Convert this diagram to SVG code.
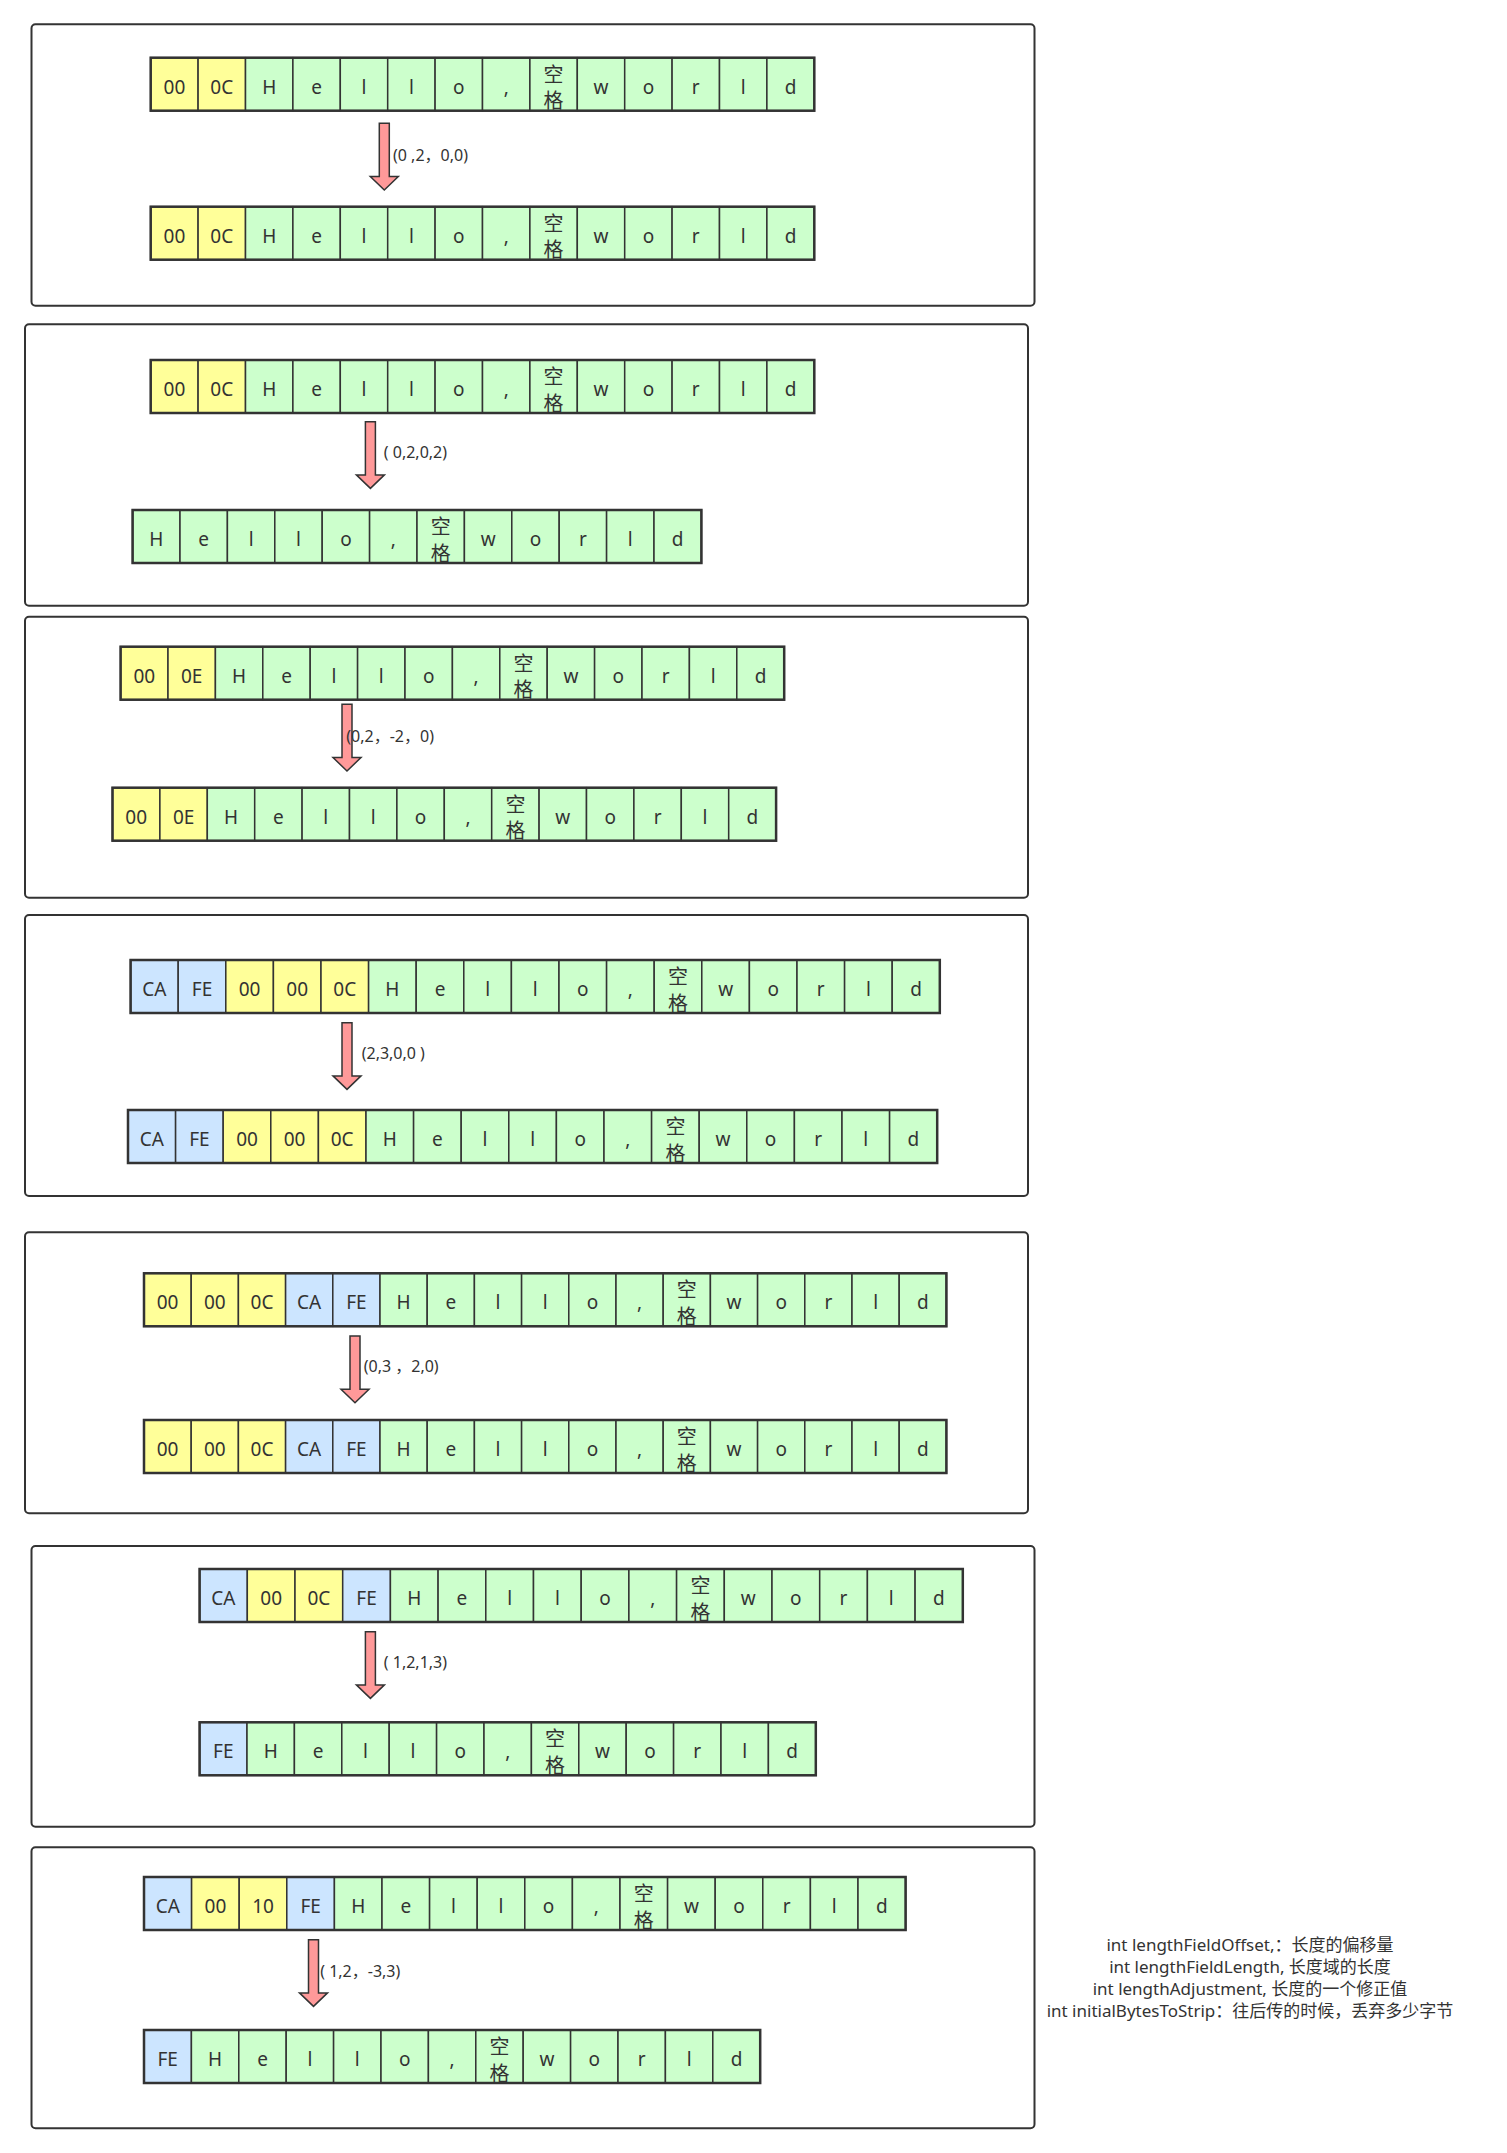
<svg xmlns="http://www.w3.org/2000/svg" width="1507" height="2153" viewBox="0 0 1507 2153">
<style>
text{font-family:"Noto Sans","Noto Sans CJK SC",sans-serif;fill:#333}
.t{font-size:19px;text-anchor:middle}
.k{font-size:20px;text-anchor:middle;font-family:"Noto Sans CJK SC",sans-serif}
.lb{font-size:16px;white-space:pre}
.nt{font-size:17px;text-anchor:middle}
.p{fill:#fff;stroke:#333;stroke-width:2}
.y,.g,.b{stroke:#333;stroke-width:1.5}
.y{fill:#ffff99}.g{fill:#ccffcc}.b{fill:#cce5ff}
.o{fill:none;stroke:#333;stroke-width:2.5}
.ar{fill:#ff9999;stroke:#333;stroke-width:1.5}
</style>
<defs>
<path id="arrow" class="ar" d="M-5,0 H5 V53.2 H14 L0,66.7 L-14,53.2 H-5 Z"/>
</defs>
<rect width="1507" height="2153" fill="#fff"/>
<g id="panels">
<rect id="panel1" class="p" x="31.5" y="24.3" width="1003" height="281.4" rx="4"/>
<rect id="panel2" class="p" x="25" y="324.3" width="1003" height="281.4" rx="4"/>
<rect id="panel3" class="p" x="25" y="616.7" width="1003" height="281" rx="4"/>
<rect id="panel4" class="p" x="25" y="915" width="1003" height="281" rx="4"/>
<rect id="panel5" class="p" x="25" y="1232.3" width="1003" height="281" rx="4"/>
<rect id="panel6" class="p" x="31.5" y="1546" width="1003" height="280.7" rx="4"/>
<rect id="panel7" class="p" x="31.5" y="1847.3" width="1003" height="281" rx="4"/>
</g>

<g id="p1-in" transform="translate(150.7,57.7)">
<rect class="y" x="0" width="47.4" height="53"/><rect class="y" x="47.4" width="47.4" height="53"/>
<rect class="g" x="94.8" width="47.4" height="53"/><rect class="g" x="142.2" width="47.4" height="53"/><rect class="g" x="189.6" width="47.4" height="53"/><rect class="g" x="237" width="47.4" height="53"/><rect class="g" x="284.4" width="47.4" height="53"/><rect class="g" x="331.8" width="47.4" height="53"/><rect class="g" x="379.2" width="47.4" height="53"/><rect class="g" x="426.6" width="47.4" height="53"/><rect class="g" x="474" width="47.4" height="53"/><rect class="g" x="521.4" width="47.4" height="53"/><rect class="g" x="568.8" width="47.4" height="53"/><rect class="g" x="616.2" width="47.4" height="53"/>
<rect class="o" width="663.6" height="53"/>
<text class="t" x="23.7" y="36">00</text><text class="t" x="71.1" y="36">0C</text>
<text class="t" x="118.5" y="36">H</text><text class="t" x="165.9" y="36">e</text><text class="t" x="213.3" y="36">l</text><text class="t" x="260.7" y="36">l</text><text class="t" x="308.1" y="36">o</text><text class="t" x="355.5" y="36">,</text><text class="k" x="402.9" y="24">空</text><text class="k" x="402.9" y="50.5">格</text><text class="t" x="450.3" y="36">w</text><text class="t" x="497.7" y="36">o</text><text class="t" x="545.1" y="36">r</text><text class="t" x="592.5" y="36">l</text><text class="t" x="639.9" y="36">d</text>
</g>
<g id="p1-out" transform="translate(150.7,206.7)">
<rect class="y" x="0" width="47.4" height="53"/><rect class="y" x="47.4" width="47.4" height="53"/>
<rect class="g" x="94.8" width="47.4" height="53"/><rect class="g" x="142.2" width="47.4" height="53"/><rect class="g" x="189.6" width="47.4" height="53"/><rect class="g" x="237" width="47.4" height="53"/><rect class="g" x="284.4" width="47.4" height="53"/><rect class="g" x="331.8" width="47.4" height="53"/><rect class="g" x="379.2" width="47.4" height="53"/><rect class="g" x="426.6" width="47.4" height="53"/><rect class="g" x="474" width="47.4" height="53"/><rect class="g" x="521.4" width="47.4" height="53"/><rect class="g" x="568.8" width="47.4" height="53"/><rect class="g" x="616.2" width="47.4" height="53"/>
<rect class="o" width="663.6" height="53"/>
<text class="t" x="23.7" y="36">00</text><text class="t" x="71.1" y="36">0C</text>
<text class="t" x="118.5" y="36">H</text><text class="t" x="165.9" y="36">e</text><text class="t" x="213.3" y="36">l</text><text class="t" x="260.7" y="36">l</text><text class="t" x="308.1" y="36">o</text><text class="t" x="355.5" y="36">,</text><text class="k" x="402.9" y="24">空</text><text class="k" x="402.9" y="50.5">格</text><text class="t" x="450.3" y="36">w</text><text class="t" x="497.7" y="36">o</text><text class="t" x="545.1" y="36">r</text><text class="t" x="592.5" y="36">l</text><text class="t" x="639.9" y="36">d</text>
</g>

<g id="p2-in" transform="translate(150.7,360)">
<rect class="y" x="0" width="47.4" height="53"/><rect class="y" x="47.4" width="47.4" height="53"/>
<rect class="g" x="94.8" width="47.4" height="53"/><rect class="g" x="142.2" width="47.4" height="53"/><rect class="g" x="189.6" width="47.4" height="53"/><rect class="g" x="237" width="47.4" height="53"/><rect class="g" x="284.4" width="47.4" height="53"/><rect class="g" x="331.8" width="47.4" height="53"/><rect class="g" x="379.2" width="47.4" height="53"/><rect class="g" x="426.6" width="47.4" height="53"/><rect class="g" x="474" width="47.4" height="53"/><rect class="g" x="521.4" width="47.4" height="53"/><rect class="g" x="568.8" width="47.4" height="53"/><rect class="g" x="616.2" width="47.4" height="53"/>
<rect class="o" width="663.6" height="53"/>
<text class="t" x="23.7" y="36">00</text><text class="t" x="71.1" y="36">0C</text>
<text class="t" x="118.5" y="36">H</text><text class="t" x="165.9" y="36">e</text><text class="t" x="213.3" y="36">l</text><text class="t" x="260.7" y="36">l</text><text class="t" x="308.1" y="36">o</text><text class="t" x="355.5" y="36">,</text><text class="k" x="402.9" y="24">空</text><text class="k" x="402.9" y="50.5">格</text><text class="t" x="450.3" y="36">w</text><text class="t" x="497.7" y="36">o</text><text class="t" x="545.1" y="36">r</text><text class="t" x="592.5" y="36">l</text><text class="t" x="639.9" y="36">d</text>
</g>
<g id="p2-out" transform="translate(132.6,510)">
<rect class="g" x="0" width="47.4" height="53"/><rect class="g" x="47.4" width="47.4" height="53"/><rect class="g" x="94.8" width="47.4" height="53"/><rect class="g" x="142.2" width="47.4" height="53"/><rect class="g" x="189.6" width="47.4" height="53"/><rect class="g" x="237" width="47.4" height="53"/><rect class="g" x="284.4" width="47.4" height="53"/><rect class="g" x="331.8" width="47.4" height="53"/><rect class="g" x="379.2" width="47.4" height="53"/><rect class="g" x="426.6" width="47.4" height="53"/><rect class="g" x="474" width="47.4" height="53"/><rect class="g" x="521.4" width="47.4" height="53"/>
<rect class="o" width="568.8" height="53"/>
<text class="t" x="23.7" y="36">H</text><text class="t" x="71.1" y="36">e</text><text class="t" x="118.5" y="36">l</text><text class="t" x="165.9" y="36">l</text><text class="t" x="213.3" y="36">o</text><text class="t" x="260.7" y="36">,</text><text class="k" x="308.1" y="24">空</text><text class="k" x="308.1" y="50.5">格</text><text class="t" x="355.5" y="36">w</text><text class="t" x="402.9" y="36">o</text><text class="t" x="450.3" y="36">r</text><text class="t" x="497.7" y="36">l</text><text class="t" x="545.1" y="36">d</text>
</g>

<g id="p3-in" transform="translate(120.6,646.7)">
<rect class="y" x="0" width="47.4" height="53"/><rect class="y" x="47.4" width="47.4" height="53"/>
<rect class="g" x="94.8" width="47.4" height="53"/><rect class="g" x="142.2" width="47.4" height="53"/><rect class="g" x="189.6" width="47.4" height="53"/><rect class="g" x="237" width="47.4" height="53"/><rect class="g" x="284.4" width="47.4" height="53"/><rect class="g" x="331.8" width="47.4" height="53"/><rect class="g" x="379.2" width="47.4" height="53"/><rect class="g" x="426.6" width="47.4" height="53"/><rect class="g" x="474" width="47.4" height="53"/><rect class="g" x="521.4" width="47.4" height="53"/><rect class="g" x="568.8" width="47.4" height="53"/><rect class="g" x="616.2" width="47.4" height="53"/>
<rect class="o" width="663.6" height="53"/>
<text class="t" x="23.7" y="36">00</text><text class="t" x="71.1" y="36">0E</text>
<text class="t" x="118.5" y="36">H</text><text class="t" x="165.9" y="36">e</text><text class="t" x="213.3" y="36">l</text><text class="t" x="260.7" y="36">l</text><text class="t" x="308.1" y="36">o</text><text class="t" x="355.5" y="36">,</text><text class="k" x="402.9" y="24">空</text><text class="k" x="402.9" y="50.5">格</text><text class="t" x="450.3" y="36">w</text><text class="t" x="497.7" y="36">o</text><text class="t" x="545.1" y="36">r</text><text class="t" x="592.5" y="36">l</text><text class="t" x="639.9" y="36">d</text>
</g>
<g id="p3-out" transform="translate(112.5,787.7)">
<rect class="y" x="0" width="47.4" height="53"/><rect class="y" x="47.4" width="47.4" height="53"/>
<rect class="g" x="94.8" width="47.4" height="53"/><rect class="g" x="142.2" width="47.4" height="53"/><rect class="g" x="189.6" width="47.4" height="53"/><rect class="g" x="237" width="47.4" height="53"/><rect class="g" x="284.4" width="47.4" height="53"/><rect class="g" x="331.8" width="47.4" height="53"/><rect class="g" x="379.2" width="47.4" height="53"/><rect class="g" x="426.6" width="47.4" height="53"/><rect class="g" x="474" width="47.4" height="53"/><rect class="g" x="521.4" width="47.4" height="53"/><rect class="g" x="568.8" width="47.4" height="53"/><rect class="g" x="616.2" width="47.4" height="53"/>
<rect class="o" width="663.6" height="53"/>
<text class="t" x="23.7" y="36">00</text><text class="t" x="71.1" y="36">0E</text>
<text class="t" x="118.5" y="36">H</text><text class="t" x="165.9" y="36">e</text><text class="t" x="213.3" y="36">l</text><text class="t" x="260.7" y="36">l</text><text class="t" x="308.1" y="36">o</text><text class="t" x="355.5" y="36">,</text><text class="k" x="402.9" y="24">空</text><text class="k" x="402.9" y="50.5">格</text><text class="t" x="450.3" y="36">w</text><text class="t" x="497.7" y="36">o</text><text class="t" x="545.1" y="36">r</text><text class="t" x="592.5" y="36">l</text><text class="t" x="639.9" y="36">d</text>
</g>

<g id="p4-in" transform="translate(130.6,960)">
<rect class="b" x="0" width="47.6" height="53"/><rect class="b" x="47.6" width="47.6" height="53"/>
<rect class="y" x="95.2" width="47.6" height="53"/><rect class="y" x="142.8" width="47.6" height="53"/><rect class="y" x="190.4" width="47.6" height="53"/>
<rect class="g" x="238" width="47.6" height="53"/><rect class="g" x="285.6" width="47.6" height="53"/><rect class="g" x="333.2" width="47.6" height="53"/><rect class="g" x="380.8" width="47.6" height="53"/><rect class="g" x="428.4" width="47.6" height="53"/><rect class="g" x="476" width="47.6" height="53"/><rect class="g" x="523.6" width="47.6" height="53"/><rect class="g" x="571.2" width="47.6" height="53"/><rect class="g" x="618.8" width="47.6" height="53"/><rect class="g" x="666.4" width="47.6" height="53"/><rect class="g" x="714" width="47.6" height="53"/><rect class="g" x="761.6" width="47.6" height="53"/>
<rect class="o" width="809.2" height="53"/>
<text class="t" x="23.8" y="36">CA</text><text class="t" x="71.4" y="36">FE</text><text class="t" x="119" y="36">00</text><text class="t" x="166.6" y="36">00</text><text class="t" x="214.2" y="36">0C</text>
<text class="t" x="261.8" y="36">H</text><text class="t" x="309.4" y="36">e</text><text class="t" x="357" y="36">l</text><text class="t" x="404.6" y="36">l</text><text class="t" x="452.2" y="36">o</text><text class="t" x="499.8" y="36">,</text><text class="k" x="547.4" y="24">空</text><text class="k" x="547.4" y="50.5">格</text><text class="t" x="595" y="36">w</text><text class="t" x="642.6" y="36">o</text><text class="t" x="690.2" y="36">r</text><text class="t" x="737.8" y="36">l</text><text class="t" x="785.4" y="36">d</text>
</g>
<g id="p4-out" transform="translate(128,1110)">
<rect class="b" x="0" width="47.6" height="53"/><rect class="b" x="47.6" width="47.6" height="53"/>
<rect class="y" x="95.2" width="47.6" height="53"/><rect class="y" x="142.8" width="47.6" height="53"/><rect class="y" x="190.4" width="47.6" height="53"/>
<rect class="g" x="238" width="47.6" height="53"/><rect class="g" x="285.6" width="47.6" height="53"/><rect class="g" x="333.2" width="47.6" height="53"/><rect class="g" x="380.8" width="47.6" height="53"/><rect class="g" x="428.4" width="47.6" height="53"/><rect class="g" x="476" width="47.6" height="53"/><rect class="g" x="523.6" width="47.6" height="53"/><rect class="g" x="571.2" width="47.6" height="53"/><rect class="g" x="618.8" width="47.6" height="53"/><rect class="g" x="666.4" width="47.6" height="53"/><rect class="g" x="714" width="47.6" height="53"/><rect class="g" x="761.6" width="47.6" height="53"/>
<rect class="o" width="809.2" height="53"/>
<text class="t" x="23.8" y="36">CA</text><text class="t" x="71.4" y="36">FE</text><text class="t" x="119" y="36">00</text><text class="t" x="166.6" y="36">00</text><text class="t" x="214.2" y="36">0C</text>
<text class="t" x="261.8" y="36">H</text><text class="t" x="309.4" y="36">e</text><text class="t" x="357" y="36">l</text><text class="t" x="404.6" y="36">l</text><text class="t" x="452.2" y="36">o</text><text class="t" x="499.8" y="36">,</text><text class="k" x="547.4" y="24">空</text><text class="k" x="547.4" y="50.5">格</text><text class="t" x="595" y="36">w</text><text class="t" x="642.6" y="36">o</text><text class="t" x="690.2" y="36">r</text><text class="t" x="737.8" y="36">l</text><text class="t" x="785.4" y="36">d</text>
</g>

<g id="p5-in" transform="translate(144,1273.3)">
<rect class="y" x="0" width="47.2" height="53"/><rect class="y" x="47.2" width="47.2" height="53"/><rect class="y" x="94.4" width="47.2" height="53"/>
<rect class="b" x="141.6" width="47.2" height="53"/><rect class="b" x="188.8" width="47.2" height="53"/>
<rect class="g" x="236" width="47.2" height="53"/><rect class="g" x="283.2" width="47.2" height="53"/><rect class="g" x="330.4" width="47.2" height="53"/><rect class="g" x="377.6" width="47.2" height="53"/><rect class="g" x="424.8" width="47.2" height="53"/><rect class="g" x="472" width="47.2" height="53"/><rect class="g" x="519.2" width="47.2" height="53"/><rect class="g" x="566.4" width="47.2" height="53"/><rect class="g" x="613.6" width="47.2" height="53"/><rect class="g" x="660.8" width="47.2" height="53"/><rect class="g" x="708" width="47.2" height="53"/><rect class="g" x="755.2" width="47.2" height="53"/>
<rect class="o" width="802.4" height="53"/>
<text class="t" x="23.6" y="36">00</text><text class="t" x="70.8" y="36">00</text><text class="t" x="118" y="36">0C</text><text class="t" x="165.2" y="36">CA</text><text class="t" x="212.4" y="36">FE</text>
<text class="t" x="259.6" y="36">H</text><text class="t" x="306.8" y="36">e</text><text class="t" x="354" y="36">l</text><text class="t" x="401.2" y="36">l</text><text class="t" x="448.4" y="36">o</text><text class="t" x="495.6" y="36">,</text><text class="k" x="542.8" y="24">空</text><text class="k" x="542.8" y="50.5">格</text><text class="t" x="590" y="36">w</text><text class="t" x="637.2" y="36">o</text><text class="t" x="684.4" y="36">r</text><text class="t" x="731.6" y="36">l</text><text class="t" x="778.8" y="36">d</text>
</g>
<g id="p5-out" transform="translate(144,1420)">
<rect class="y" x="0" width="47.2" height="53"/><rect class="y" x="47.2" width="47.2" height="53"/><rect class="y" x="94.4" width="47.2" height="53"/>
<rect class="b" x="141.6" width="47.2" height="53"/><rect class="b" x="188.8" width="47.2" height="53"/>
<rect class="g" x="236" width="47.2" height="53"/><rect class="g" x="283.2" width="47.2" height="53"/><rect class="g" x="330.4" width="47.2" height="53"/><rect class="g" x="377.6" width="47.2" height="53"/><rect class="g" x="424.8" width="47.2" height="53"/><rect class="g" x="472" width="47.2" height="53"/><rect class="g" x="519.2" width="47.2" height="53"/><rect class="g" x="566.4" width="47.2" height="53"/><rect class="g" x="613.6" width="47.2" height="53"/><rect class="g" x="660.8" width="47.2" height="53"/><rect class="g" x="708" width="47.2" height="53"/><rect class="g" x="755.2" width="47.2" height="53"/>
<rect class="o" width="802.4" height="53"/>
<text class="t" x="23.6" y="36">00</text><text class="t" x="70.8" y="36">00</text><text class="t" x="118" y="36">0C</text><text class="t" x="165.2" y="36">CA</text><text class="t" x="212.4" y="36">FE</text>
<text class="t" x="259.6" y="36">H</text><text class="t" x="306.8" y="36">e</text><text class="t" x="354" y="36">l</text><text class="t" x="401.2" y="36">l</text><text class="t" x="448.4" y="36">o</text><text class="t" x="495.6" y="36">,</text><text class="k" x="542.8" y="24">空</text><text class="k" x="542.8" y="50.5">格</text><text class="t" x="590" y="36">w</text><text class="t" x="637.2" y="36">o</text><text class="t" x="684.4" y="36">r</text><text class="t" x="731.6" y="36">l</text><text class="t" x="778.8" y="36">d</text>
</g>

<g id="p6-in" transform="translate(199.6,1569)">
<rect class="b" x="0" width="47.7" height="53"/>
<rect class="y" x="47.7" width="47.7" height="53"/><rect class="y" x="95.4" width="47.7" height="53"/>
<rect class="b" x="143.1" width="47.7" height="53"/>
<rect class="g" x="190.8" width="47.7" height="53"/><rect class="g" x="238.5" width="47.7" height="53"/><rect class="g" x="286.2" width="47.7" height="53"/><rect class="g" x="333.9" width="47.7" height="53"/><rect class="g" x="381.6" width="47.7" height="53"/><rect class="g" x="429.3" width="47.7" height="53"/><rect class="g" x="477" width="47.7" height="53"/><rect class="g" x="524.7" width="47.7" height="53"/><rect class="g" x="572.4" width="47.7" height="53"/><rect class="g" x="620.1" width="47.7" height="53"/><rect class="g" x="667.8" width="47.7" height="53"/><rect class="g" x="715.5" width="47.7" height="53"/>
<rect class="o" width="763.2" height="53"/>
<text class="t" x="23.85" y="36">CA</text><text class="t" x="71.55" y="36">00</text><text class="t" x="119.25" y="36">0C</text><text class="t" x="166.95" y="36">FE</text>
<text class="t" x="214.65" y="36">H</text><text class="t" x="262.35" y="36">e</text><text class="t" x="310.05" y="36">l</text><text class="t" x="357.75" y="36">l</text><text class="t" x="405.45" y="36">o</text><text class="t" x="453.15" y="36">,</text><text class="k" x="500.85" y="24">空</text><text class="k" x="500.85" y="50.5">格</text><text class="t" x="548.55" y="36">w</text><text class="t" x="596.25" y="36">o</text><text class="t" x="643.95" y="36">r</text><text class="t" x="691.65" y="36">l</text><text class="t" x="739.35" y="36">d</text>
</g>
<g id="p6-out" transform="translate(199.6,1722.3)">
<rect class="b" x="0" width="47.4" height="53"/>
<rect class="g" x="47.4" width="47.4" height="53"/><rect class="g" x="94.8" width="47.4" height="53"/><rect class="g" x="142.2" width="47.4" height="53"/><rect class="g" x="189.6" width="47.4" height="53"/><rect class="g" x="237" width="47.4" height="53"/><rect class="g" x="284.4" width="47.4" height="53"/><rect class="g" x="331.8" width="47.4" height="53"/><rect class="g" x="379.2" width="47.4" height="53"/><rect class="g" x="426.6" width="47.4" height="53"/><rect class="g" x="474" width="47.4" height="53"/><rect class="g" x="521.4" width="47.4" height="53"/><rect class="g" x="568.8" width="47.4" height="53"/>
<rect class="o" width="616.2" height="53"/>
<text class="t" x="23.7" y="36">FE</text>
<text class="t" x="71.1" y="36">H</text><text class="t" x="118.5" y="36">e</text><text class="t" x="165.9" y="36">l</text><text class="t" x="213.3" y="36">l</text><text class="t" x="260.7" y="36">o</text><text class="t" x="308.1" y="36">,</text><text class="k" x="355.5" y="24">空</text><text class="k" x="355.5" y="50.5">格</text><text class="t" x="402.9" y="36">w</text><text class="t" x="450.3" y="36">o</text><text class="t" x="497.7" y="36">r</text><text class="t" x="545.1" y="36">l</text><text class="t" x="592.5" y="36">d</text>
</g>

<g id="p7-in" transform="translate(144,1877)">
<rect class="b" x="0" width="47.6" height="53"/>
<rect class="y" x="47.6" width="47.6" height="53"/><rect class="y" x="95.2" width="47.6" height="53"/>
<rect class="b" x="142.8" width="47.6" height="53"/>
<rect class="g" x="190.4" width="47.6" height="53"/><rect class="g" x="238" width="47.6" height="53"/><rect class="g" x="285.6" width="47.6" height="53"/><rect class="g" x="333.2" width="47.6" height="53"/><rect class="g" x="380.8" width="47.6" height="53"/><rect class="g" x="428.4" width="47.6" height="53"/><rect class="g" x="476" width="47.6" height="53"/><rect class="g" x="523.6" width="47.6" height="53"/><rect class="g" x="571.2" width="47.6" height="53"/><rect class="g" x="618.8" width="47.6" height="53"/><rect class="g" x="666.4" width="47.6" height="53"/><rect class="g" x="714" width="47.6" height="53"/>
<rect class="o" width="761.6" height="53"/>
<text class="t" x="23.8" y="36">CA</text><text class="t" x="71.4" y="36">00</text><text class="t" x="119" y="36">10</text><text class="t" x="166.6" y="36">FE</text>
<text class="t" x="214.2" y="36">H</text><text class="t" x="261.8" y="36">e</text><text class="t" x="309.4" y="36">l</text><text class="t" x="357" y="36">l</text><text class="t" x="404.6" y="36">o</text><text class="t" x="452.2" y="36">,</text><text class="k" x="499.8" y="24">空</text><text class="k" x="499.8" y="50.5">格</text><text class="t" x="547.4" y="36">w</text><text class="t" x="595" y="36">o</text><text class="t" x="642.6" y="36">r</text><text class="t" x="690.2" y="36">l</text><text class="t" x="737.8" y="36">d</text>
</g>
<g id="p7-out" transform="translate(144,2030)">
<rect class="b" x="0" width="47.4" height="53"/>
<rect class="g" x="47.4" width="47.4" height="53"/><rect class="g" x="94.8" width="47.4" height="53"/><rect class="g" x="142.2" width="47.4" height="53"/><rect class="g" x="189.6" width="47.4" height="53"/><rect class="g" x="237" width="47.4" height="53"/><rect class="g" x="284.4" width="47.4" height="53"/><rect class="g" x="331.8" width="47.4" height="53"/><rect class="g" x="379.2" width="47.4" height="53"/><rect class="g" x="426.6" width="47.4" height="53"/><rect class="g" x="474" width="47.4" height="53"/><rect class="g" x="521.4" width="47.4" height="53"/><rect class="g" x="568.8" width="47.4" height="53"/>
<rect class="o" width="616.2" height="53"/>
<text class="t" x="23.7" y="36">FE</text>
<text class="t" x="71.1" y="36">H</text><text class="t" x="118.5" y="36">e</text><text class="t" x="165.9" y="36">l</text><text class="t" x="213.3" y="36">l</text><text class="t" x="260.7" y="36">o</text><text class="t" x="308.1" y="36">,</text><text class="k" x="355.5" y="24">空</text><text class="k" x="355.5" y="50.5">格</text><text class="t" x="402.9" y="36">w</text><text class="t" x="450.3" y="36">o</text><text class="t" x="497.7" y="36">r</text><text class="t" x="545.1" y="36">l</text><text class="t" x="592.5" y="36">d</text>
</g>

<g id="connectors">
<use href="#arrow" x="384.3" y="123.3"/>
<use href="#arrow" x="370.4" y="421.7"/>
<use href="#arrow" x="347" y="704.3"/>
<use href="#arrow" x="347" y="1022.7"/>
<use href="#arrow" x="355" y="1336"/>
<use href="#arrow" x="370.4" y="1631.7"/>
<use href="#arrow" x="313.5" y="1939.7"/>
<text class="lb" x="393" y="160.7">(0 ,2，0,0)</text>
<text class="lb" x="383.8" y="458">( 0,2,0,2)</text>
<text class="lb" x="346.3" y="741.7">(0,2，-2，0)</text>
<text class="lb" x="361.7" y="1059.3">(2,3,0,0 )</text>
<text class="lb" x="363.7" y="1372.3">(0,3 ，2,0)</text>
<text class="lb" x="383.8" y="1667.7">( 1,2,1,3)</text>
<text class="lb" x="320.2" y="1976.7">( 1,2，-3,3)</text>
</g>

<g id="notes">
<text class="nt" x="1250" y="1951">int lengthFieldOffset,：长度的偏移量</text>
<text class="nt" x="1250" y="1973">int lengthFieldLength, 长度域的长度</text>
<text class="nt" x="1250" y="1995">int lengthAdjustment, 长度的一个修正值</text>
<text class="nt" x="1250" y="2017">int initialBytesToStrip：往后传的时候，丢弃多少字节</text>
</g>
</svg>
